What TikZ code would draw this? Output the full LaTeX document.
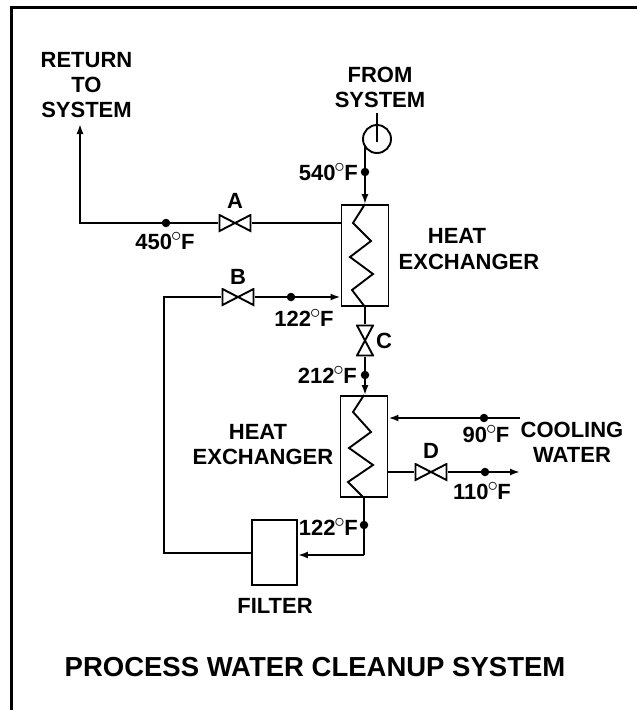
\documentclass[tikz,border=0pt]{standalone}
\usepackage{fontspec}
\setmainfont{Liberation Sans}
\usetikzlibrary{arrows.meta}

\tikzset{
  pipe/.style={line width=1.9pt},
  flow/.style={pipe, -{Latex[length=10pt, width=7pt]}},
  dot/.style={circle, fill=black, inner sep=0pt, minimum size=8.5pt},
  lbl/.style={font=\bfseries\fontsize{22}{25}\selectfont, align=center, inner sep=0pt},
  hx/.style={draw, line width=1.9pt, fill=white, minimum width=47pt, minimum height=101pt, inner sep=0pt},
  valve/.style={minimum width=33pt, minimum height=18pt, inner sep=0pt, path picture={
      \draw[line width=1.9pt] ([shift={(1pt,1pt)}]path picture bounding box.south west)
        -- ([shift={(-1pt,-1pt)}]path picture bounding box.north east)
        -- ([shift={(-1pt,1pt)}]path picture bounding box.south east)
        -- ([shift={(1pt,-1pt)}]path picture bounding box.north west) -- cycle;}},
  vvalve/.style={minimum width=18pt, minimum height=32pt, inner sep=0pt, path picture={
      \draw[line width=1.9pt] ([shift={(1pt,1pt)}]path picture bounding box.south west)
        -- ([shift={(-1pt,1pt)}]path picture bounding box.south east)
        -- ([shift={(1pt,-1pt)}]path picture bounding box.north west)
        -- ([shift={(-1pt,-1pt)}]path picture bounding box.north east) -- cycle;}},
}
\newcommand\F{\kern-1pt$^{\textstyle\circ}$\kern-1pt F}

\begin{document}
\begin{tikzpicture}[x=1pt, y=-1pt]
  \useasboundingbox (0,0) rectangle (637,710);

  \draw[line width=3pt] (11,710) -- (11,7.5) -- (637,7.5);

  \node[hx] (hxa) at (365,255.5) {};
  \node[hx] (hxb) at (364,446.5) {};
  \node[draw, line width=1.9pt, minimum width=45pt, minimum height=65pt, inner sep=0pt] (filter) at (274.5,552.5) {};

  \node[draw, circle, line width=1.9pt, minimum size=28pt, inner sep=0pt] (meter) at (377,139) {};
  \node[valve] (va) at (235,223) {};
  \node[valve] (vb) at (238,297) {};
  \node[vvalve] (vc) at (365,340.5) {};
  \node[valve] (vd) at (431,472) {};

  \node[dot] (d540) at (365,172) {};
  \node[dot] (d450) at (166,223) {};
  \node[dot] (d122a) at (291,297) {};
  \node[dot] (d212) at (365,375) {};
  \node[dot] (d122b) at (364,525) {};
  \node[dot] (d90) at (484,418) {};
  \node[dot] (d110) at (485,472) {};

  \coordinate (stem) at (377,113);
  \coordinate (rettop) at (80,124);
  \coordinate (retcor) at (80,223);
  \coordinate (bcor) at (164,297);
  \coordinate (bbot) at (164,553);
  \coordinate (fcor) at (364,555);
  \coordinate (cwin) at (520,418);
  \coordinate (cwout) at (520,472);
  \coordinate (mbot) at (365,146);

  \draw[pipe] (stem) -- (377,142);
  \draw[pipe] (d540) -- (mbot);
  \draw[flow] (d540) -- (hxa.north);
  \draw[pipe] (va.east) -- (va.east -| hxa.west);
  \draw[pipe] (va.west) -- (d450);
  \draw[flow] (d450) -- (retcor) -- (rettop);
  \draw[pipe] (filter.west |- bbot) -- (bbot) -- (bcor) -- (vb.west);
  \draw[pipe] (vb.east) -- (d122a);
  \draw[flow] (d122a) -- (d122a -| hxa.west);
  \draw[pipe] (hxa.south) -- (vc.north);
  \draw[pipe] (vc.south) -- (d212);
  \draw[flow] (d212) -- (d212 |- hxb.north);
  \draw[pipe] (hxb.south) -- (d122b) -- (fcor);
  \draw[flow] (fcor) -- (fcor -| filter.east);
  \draw[flow] (cwin) -- (d90) -- (d90 -| hxb.east);
  \draw[pipe] (vd.west -| hxb.east) -- (vd.west);
  \draw[flow] (vd.east) -- (d110) -- (cwout);

  %% coils
  \draw[pipe] (hxa.north) -- (353,223) -- (371,241) -- (350,257) -- (373,274) -- (352,290) -- (hxa.south);
  \draw[pipe] (hxb.north) -- (353,412) -- (371,432) -- (349,448) -- (373,465) -- (348,482) -- (hxb.south);

  \node[lbl] (lreturn) at (86.5,85.5) {RETURN\\TO\\SYSTEM};
  \node[lbl] (lfrom) at (380,87.5) {FROM\\SYSTEM};
  \node[lbl, anchor=east] (l540) at (358,172) {540\F};
  \node[lbl] (l450) at (165,241) {450\F};
  \node[lbl] (la) at (235,201) {A};
  \node[lbl] (lb) at (238,277) {B};
  \node[lbl] (lc) at (384,341) {C};
  \node[lbl] (ld) at (431,451) {D};
  \node[lbl] (l122a) at (304,318) {122\F};
  \node[lbl, anchor=east] (l212) at (357,375) {212\F};
  \node[lbl, anchor=east] (l122b) at (358,527) {122\F};
  \node[lbl] (l90) at (486,434) {90\F};
  \node[lbl] (l110) at (482,491) {110\F};
  \node[lbl] (lhxat) at (457,236) {HEAT};
  \node[lbl] (lhxab) at (469,262) {EXCHANGER};
  \node[lbl] (lhxbt) at (258,432) {HEAT};
  \node[lbl] (lhxbb) at (263,457) {EXCHANGER};
  \node[lbl] (lcool) at (572,442) {COOLING\\WATER};
  \node[lbl] (lfilter) at (275,606) {FILTER};
  \node[font=\bfseries\fontsize{27.5}{30}\selectfont, inner sep=0pt] (ltitle) at (315,667) {PROCESS WATER CLEANUP SYSTEM};
\end{tikzpicture}
\end{document}
